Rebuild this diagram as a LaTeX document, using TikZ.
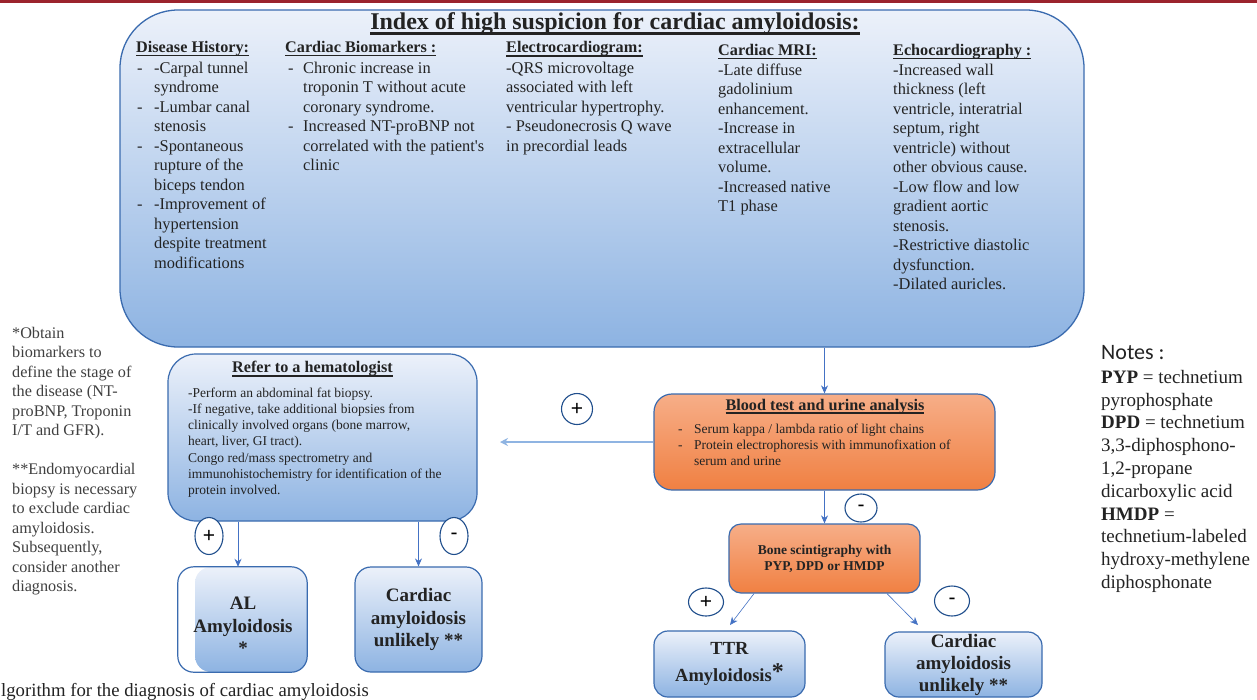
\documentclass[tikz,border=0pt]{standalone}
\usepackage{fontspec}
\setmainfont{Liberation Serif}
\newfontfamily\notesfont{Carlito}
\newfontfamily\signfont{Liberation Sans}
\usetikzlibrary{arrows.meta,shapes.geometric}
\definecolor{boxborder}{RGB}{58,107,175}
\definecolor{arrc}{RGB}{68,114,196}
\definecolor{lightarr}{RGB}{143,180,226}
\definecolor{blueTop}{RGB}{236,241,250}
\definecolor{blueBot}{RGB}{141,179,226}
\definecolor{orTop}{RGB}{247,174,136}
\definecolor{orBot}{RGB}{240,128,66}
\definecolor{txtc}{RGB}{35,35,35}
\definecolor{graytxt}{RGB}{64,64,64}
\definecolor{circc}{RGB}{31,78,140}
\definecolor{redline}{RGB}{155,35,45}
\newsavebox\ulbox
\newcommand{\myul}[3]{\sbox\ulbox{#3}\rlap{\rule[-#1pt]{\wd\ulbox}{#2pt}}\usebox\ulbox}
\newcommand{\dd}[2]{\makebox[#1][l]{-}#2}
\newcommand{\ind}[2]{\hspace*{#1}#2}
\newcommand{\colfont}{\fontsize{16.4}{19.5}\selectfont}
\newcommand{\headfont}{\fontsize{16.2}{19.5}\selectfont\bfseries}
\begin{document}
\begin{tikzpicture}[x=1pt,y=-1pt,
  txt/.style={inner sep=0pt, text=txtc, align=left},
  head/.style={inner sep=0pt, text=txtc, anchor=base west, font=\headfont},
  col/.style={txt, anchor=north west, font=\colfont},
  bbox/.style={draw=boxborder, line width=1.2pt, top color=blueTop, bottom color=blueBot, inner sep=0pt, text=txtc, align=center},
  obox/.style={draw=boxborder, line width=1.2pt, top color=orTop, bottom color=orBot, inner sep=0pt, text=txtc, align=center},
  sign/.style={ellipse, draw=circc, line width=1.1pt, fill=white, inner sep=0pt, font=\signfont\fontsize{21}{21}\selectfont, text=black},
  arr/.style={draw=arrc, line width=0.9pt, -{Stealth[length=8pt,width=7pt]}},
  arrl/.style={draw=lightarr, line width=2pt, -{Stealth[length=8pt,width=8pt]}},
]
\useasboundingbox (0,0) rectangle (1257,699);
\fill[white] (0,0) rectangle (1257,699);
\fill[redline] (0,0) rectangle (1257,3);

% main box
\node[bbox, line width=1.3pt, rounded corners=58pt, minimum width=964pt, minimum height=337pt] (main) at (602,178.5) {};
\node[inner sep=0pt, text=txtc, anchor=base, font=\fontsize{24}{28}\selectfont\bfseries] (title) at (615,29)
  {\myul{5.5}{2.5}{Index of high suspicion for cardiac amyloidosis:}};

\node[head] (h1) at (136,52) {\myul{4.3}{1.8}{Disease History:}};
\node[head] (h2) at (285,52) {\myul{4.3}{1.8}{Cardiac Biomarkers :}};
\node[head] (h3) at (506,52.5) {\myul{4.3}{1.8}{Electrocardiogram:}};
\node[head] (h4) at (718,55) {\myul{4.3}{1.8}{Cardiac MRI:}};
\node[head] (h5) at (893,55) {\myul{4.3}{1.8}{Echocardiography :}};

\node[col] (c1) at (137,59.35) {\dd{17pt}{-Carpal tunnel}\strut\\
\ind{17pt}{syndrome}\\
\dd{17pt}{-Lumbar canal}\\
\ind{17pt}{stenosis}\\
\dd{17pt}{-Spontaneous}\\
\ind{17pt}{rupture of the}\\
\ind{17pt}{biceps tendon}\\
\dd{17pt}{-Improvement of}\\
\ind{17pt}{hypertension}\\
\ind{17pt}{despite treatment}\\
\ind{17pt}{modifications}};

\node[col] (c2) at (288,59.35) {\dd{15pt}{Chronic increase in}\strut\\
\ind{15pt}{troponin T without acute}\\
\ind{15pt}{coronary syndrome.}\\
\dd{15pt}{Increased NT-proBNP not}\\
\ind{15pt}{correlated with the patient\textquotesingle s}\\
\ind{15pt}{clinic}};

\node[col] (c3) at (506,59.35) {\strut-QRS microvoltage\\
associated with left\\
ventricular hypertrophy.\\
- Pseudonecrosis Q wave\\
in precordial leads};

\node[col] (c4) at (718,61.35) {\strut-Late diffuse\\
gadolinium\\
enhancement.\\
-Increase in\\
extracellular\\
volume.\\
-Increased native\\
T1 phase};

\node[col] (c5) at (893,61.35) {\strut-Increased wall\\
thickness (left\\
ventricle, interatrial\\
septum, right\\
ventricle) without\\
other obvious cause.\\
-Low flow and low\\
gradient aortic\\
stenosis.\\
-Restrictive diastolic\\
dysfunction.\\
-Dilated auricles.};

% hematologist box
\node[bbox, rounded corners=28pt, minimum width=309pt, minimum height=167pt] (hm) at (322.5,437.5) {};
\node[inner sep=0pt, text=txtc, anchor=base, font=\headfont] (hmt) at (312.5,372.5) {\myul{4}{1.7}{Refer to a hematologist}};
\node[txt, anchor=north west, font=\fontsize{13.5}{16.2}\selectfont] (hmb) at (188,385.66) {\strut-Perform an abdominal fat biopsy.\\
-If negative, take additional biopsies from\\
clinically involved organs (bone marrow,\\
heart, liver, GI tract).\\
Congo red/mass spectrometry and\\
immunohistochemistry for identification of the\\
protein involved.};

% blood test box
\node[obox, rounded corners=18pt, minimum width=341pt, minimum height=96pt] (bt) at (824.5,442) {};
\node[inner sep=0pt, text=txtc, anchor=base, font=\headfont] (btt) at (825,410) {\myul{4}{1.7}{Blood test and urine analysis}};
\node[txt, anchor=north west, font=\fontsize{13.5}{16}\selectfont] (btb) at (678,421.8) {\dd{16pt}{Serum kappa / lambda ratio of light chains}\strut\\
\dd{16pt}{Protein electrophoresis with immunofixation of}\\
\ind{16pt}{serum and urine}};

% bone scintigraphy
\node[obox, rounded corners=12pt, minimum width=191pt, minimum height=69pt, font=\fontsize{13.5}{16}\selectfont\bfseries] (bone) at (824.5,558.5) {Bone scintigraphy with\\PYP, DPD or HMDP};

% AL box (white box with an inset gradient panel)
\node[fill=white, rounded corners=16pt, minimum width=129pt, minimum height=105pt, inner sep=0pt] (al) at (242.5,619.5) {};
\begin{scope}
\clip[rounded corners=16pt] (al.north west) rectangle (al.south east);
\shade[top color=blueTop, bottom color=blueBot, rounded corners=16pt] (195,567) rectangle (330,672);
\end{scope}
\draw[boxborder, line width=1.2pt, rounded corners=16pt] (al.north west) rectangle (al.south east);
\node[txt, align=center, font=\fontsize{19}{22.5}\selectfont\bfseries] (alt) at (243,626) {AL\\Amyloidosis\\*};

% cardiac unlikely 1
\node[bbox, rounded corners=16pt, minimum width=127pt, minimum height=105pt, font=\fontsize{19}{22.5}\selectfont\bfseries] (cu1) at (418.5,619.5) {Cardiac\\amyloidosis\\unlikely **};

% TTR
\node[bbox, rounded corners=14pt, minimum width=151pt, minimum height=66pt, font=\fontsize{18.5}{27.5}\selectfont\bfseries] (ttr) at (729.5,664) {TTR\\Amyloidosis\raisebox{2pt}{\fontsize{24}{24}\selectfont *}};

% cardiac unlikely 2
\node[bbox, rounded corners=14pt, minimum width=157pt, minimum height=65pt, font=\fontsize{19}{22}\selectfont\bfseries] (cu2) at (963.5,664.5) {Cardiac\\amyloidosis\\unlikely **};

% connectors
\draw[arr] (main.south -| bt.north) -- (bt.north);
\coordinate (hemarrow) at (500,442);
\draw[arrl] (bt.west) -- (hemarrow);
\draw[arr] (bt.south) -- (bone.north);
\coordinate (alin) at ([xshift=-4.5pt]al.north);
\draw[arr] (hm.south -| alin) -- (alin);
\draw[arr] (hm.south -| cu1.north) -- (cu1.north);
\coordinate (ttrend) at (730,625);
\coordinate (cu2end) at (918,625);
\draw[arr, line width=0.6pt] ([xshift=-70.5pt]bone.south) -- (ttrend);
\draw[arr, line width=0.6pt] ([xshift=62.5pt]bone.south) -- (cu2end);

% signs
\node[sign, minimum width=28pt, minimum height=37pt] (s1) at (209,536) {+};
\node[sign, minimum width=28pt, minimum height=37pt] (s2) at (454,536) {-};
\node[sign, minimum width=31pt, minimum height=31pt] (s3) at (577,409) {+};
\node[sign, minimum width=32pt, minimum height=28pt] (s4) at (861,508) {-};
\node[sign, minimum width=35pt, minimum height=28pt] (s5) at (706,602) {+};
\node[sign, minimum width=35pt, minimum height=30pt] (s6) at (952,601) {-};

% left notes
\node[txt, anchor=north west, text=graytxt, font=\fontsize{16.2}{19.5}\selectfont] (lnotes) at (12,324.35) {\strut*Obtain\\
biomarkers to\\
define the stage of\\
the disease (NT-\\
proBNP, Troponin\\
I/T and GFR).\\
\mbox{}\\
**Endomyocardial\\
biopsy is necessary\\
to exclude cardiac\\
amyloidosis.\\
Subsequently,\\
consider another\\
diagnosis.};

% right notes
\node[inner sep=0pt, anchor=base west, text=txtc, font=\notesfont\fontsize{22}{24}\selectfont] (nt) at (1101,359) {Notes :};
\node[txt, anchor=north west, font=\fontsize{19}{22.8}\selectfont] (rnotes) at (1101,367.04) {\strut\textbf{PYP} = technetium\\
pyrophosphate\\
\textbf{DPD} = technetium\\
3,3-diphosphono-\\
1,2-propane\\
dicarboxylic acid\\
\textbf{HMDP} =\\
technetium-labeled\\
hydroxy-methylene\\
diphosphonate};

% caption
\node[inner sep=0pt, anchor=base west, text=txtc, font=\fontsize{18.7}{22}\selectfont] (cap) at (1,696) {lgorithm for the diagnosis of cardiac amyloidosis};
\end{tikzpicture}
\end{document}
